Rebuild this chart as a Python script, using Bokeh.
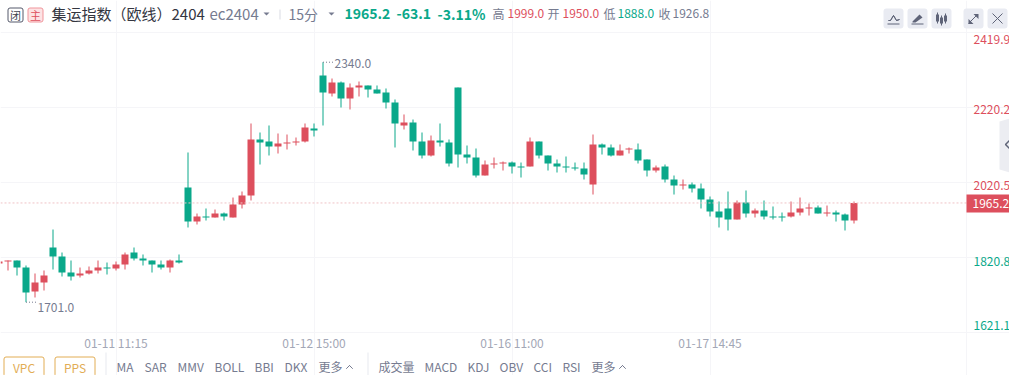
from bokeh.plotting import figure
from bokeh.models import (Label, BoxAnnotation, PolyAnnotation, Span, LinearAxis, Grid,
                          FixedTicker, ColumnDataSource)
from bokeh.embed import file_html
from bokeh.resources import INLINE

W, H = 1009, 375
FONT = "Noto Sans CJK SC"
GREEN, RED, GRAY, LIGHT = "#0aa88a", "#dd4f5d", "#767b90", "#a3a7b6"
GRID = "#f5f5f8"

candle_index = list(range(-1, 95))
opens = [1804.0, 1809.3, 1812.0, 1793.3, 1729.4, 1753.4, 1846.6, 1822.6, 1780.0, 1772.0,
         1777.4, 1785.4, 1793.3, 1790.7, 1801.3, 1833.3, 1817.3, 1812.0, 1801.3, 1793.3,
         1812.0, 2006.4, 1915.8, 1929.2, 1926.5, 1937.1, 1926.5, 1961.1, 1985.1, 2134.2,
         2128.9, 2115.5, 2123.5, 2126.2, 2128.9, 2163.5, 2304.6, 2256.7, 2286.0, 2243.4,
         2272.6, 2278.0, 2267.3, 2259.3, 2232.7, 2171.5, 2179.4, 2128.9, 2091.6, 2131.5,
         2126.2, 2272.6, 2094.2, 2086.2, 2038.3, 2067.6, 2070.3, 2072.9, 2062.3, 2062.3,
         2128.9, 2091.6, 2070.3, 2062.3, 2059.6, 2057.0, 2014.4, 2120.9, 2112.9, 2091.6,
         2107.6, 2107.6, 2080.9, 2051.6, 2062.3, 2027.7, 2011.7, 2014.4, 2003.7, 1974.4,
         1942.5, 1950.5, 1921.2, 1966.4, 1937.1, 1945.1, 1929.2, 1929.2, 1929.2, 1939.8,
         1950.5, 1953.1, 1937.1, 1939.8, 1934.5, 1918.5]
closes = [1809.3, 1812.0, 1793.3, 1726.8, 1753.4, 1772.0, 1822.6, 1780.0, 1769.4, 1777.4,
          1785.4, 1793.3, 1790.7, 1801.3, 1828.0, 1817.3, 1812.0, 1801.3, 1793.3, 1812.0,
          1806.6, 1915.8, 1929.2, 1926.5, 1937.1, 1929.2, 1961.1, 1985.1, 2134.2, 2126.2,
          2115.5, 2123.5, 2126.2, 2128.9, 2166.1, 2158.2, 2259.3, 2286.0, 2243.4, 2272.6,
          2278.0, 2267.3, 2256.7, 2232.7, 2176.8, 2179.4, 2128.9, 2091.6, 2131.5, 2126.2,
          2070.3, 2094.2, 2086.2, 2038.3, 2067.6, 2070.3, 2072.9, 2062.3, 2059.6, 2128.9,
          2091.6, 2070.3, 2062.3, 2059.6, 2057.0, 2041.0, 2120.9, 2112.9, 2091.6, 2104.9,
          2110.2, 2078.3, 2051.6, 2059.6, 2027.7, 2011.7, 2014.4, 2003.7, 1974.4, 1942.5,
          1926.5, 1921.2, 1966.4, 1937.1, 1945.1, 1929.2, 1926.5, 1926.5, 1939.8, 1950.5,
          1953.1, 1937.1, 1939.8, 1934.5, 1918.5, 1965.2]
highs = [1809.3, 1812.0, 1812.0, 1798.7, 1777.4, 1785.4, 1894.5, 1833.3, 1812.0, 1793.3,
         1796.0, 1812.0, 1806.6, 1809.3, 1833.3, 1846.6, 1828.0, 1812.0, 1812.0, 1814.6,
         1828.0, 2099.6, 1937.1, 1950.5, 1947.8, 1939.8, 1979.7, 1995.7, 2176.8, 2152.8,
         2171.5, 2150.2, 2147.5, 2139.5, 2176.8, 2176.8, 2340.0, 2296.6, 2288.6, 2283.3,
         2288.6, 2278.0, 2278.0, 2270.0, 2240.7, 2200.8, 2187.4, 2152.8, 2144.8, 2176.8,
         2134.2, 2272.6, 2118.2, 2110.2, 2078.3, 2086.2, 2075.6, 2075.6, 2072.9, 2139.5,
         2128.9, 2091.6, 2080.9, 2088.9, 2072.9, 2072.9, 2147.5, 2123.5, 2120.9, 2120.9,
         2112.9, 2123.5, 2080.9, 2064.9, 2067.6, 2038.3, 2027.7, 2019.7, 2017.0, 1982.4,
         1969.1, 1995.7, 1971.8, 1998.4, 1950.5, 1971.8, 1955.8, 1939.8, 1969.1, 1979.7,
         1963.8, 1958.4, 1958.4, 1945.1, 1937.1, 1969.1]
lows = [1804.0, 1785.4, 1772.0, 1701.0, 1713.5, 1732.1, 1788.0, 1769.4, 1758.7, 1766.7,
        1774.7, 1777.4, 1774.7, 1785.4, 1788.0, 1812.0, 1798.7, 1780.0, 1788.0, 1780.0,
        1804.0, 1899.9, 1907.9, 1918.5, 1926.5, 1918.5, 1926.5, 1950.5, 1971.8, 2067.6,
        2091.6, 2096.9, 2107.6, 2118.2, 2126.2, 2142.2, 2171.5, 2248.7, 2219.4, 2214.1,
        2248.7, 2246.0, 2256.7, 2216.7, 2112.9, 2160.8, 2104.9, 2083.6, 2088.9, 2115.5,
        2062.3, 2059.6, 2070.3, 2033.0, 2038.3, 2057.0, 2051.6, 2043.6, 2033.0, 2062.3,
        2083.6, 2051.6, 2046.3, 2046.3, 2051.6, 2027.7, 1987.7, 2094.2, 2088.9, 2091.6,
        2096.9, 2070.3, 2035.7, 2046.3, 2019.7, 1987.7, 2001.0, 1993.1, 1950.5, 1929.2,
        1899.9, 1891.9, 1921.2, 1926.5, 1926.5, 1921.2, 1921.2, 1915.8, 1926.5, 1931.8,
        1931.8, 1937.1, 1929.2, 1915.8, 1891.9, 1910.5]
price_ticks = [2419.9, 2220.2, 2020.5, 1820.8, 1621.1]
price_tick_labels = ["2419.9", "2220.2", "2020.5", "1820.8", "1621.1"]
price_tick_colors = [RED, RED, RED, GREEN, GREEN]
price_label_screen_y = [39, 108.5, 184.5, 260.5, 325]
time_ticks = [12, 34, 56, 78]
time_labels = ["01-11 11:15", "01-12 15:00", "01-16 11:00", "01-17 14:45"]
last_price = 1965.2
left_indicators = ["MA", "SAR", "MMV", "BOLL", "BBI", "DKX", "更多"]
left_indicator_x = [116, 144, 177, 214, 254, 284, 318]
right_indicators = ["成交量", "MACD", "KDJ", "OBV", "CCI", "RSI", "更多"]
right_indicator_x = [378, 424, 467, 499, 533, 562, 591]

X_LEFT, X_PLOT_RIGHT, X_RIGHT = -7.5 / 9, (966 - 7.5) / 9, (1009 - 7.5) / 9
Y_FULL_BOTTOM, Y_PLOT_BOTTOM, Y_PLOT_TOP, Y_FULL_TOP = 1505.8, 1617.6, 2421.8, 2504.3

p = figure(width=W, height=H, output_backend="svg", toolbar_location=None,
           x_range=(X_LEFT, X_RIGHT), y_range=(Y_FULL_BOTTOM, Y_FULL_TOP),
           min_border=0, outline_line_color=None,
           x_axis_location=None, y_axis_location=None,
           background_fill_color="white", border_fill_color="white",
           styles={"position": "absolute", "left": "0px", "top": "0px"})
p.center = []

time_axis = LinearAxis(fixed_location=Y_PLOT_BOTTOM, ticker=FixedTicker(ticks=time_ticks),
                       major_label_overrides=dict(zip(time_ticks, time_labels)),
                       axis_line_color=None, major_tick_line_color=None,
                       minor_tick_line_color=None, major_label_text_color=LIGHT,
                       major_label_text_font=FONT, major_label_text_font_size="12px",
                       major_tick_in=0, major_tick_out=0, minor_tick_in=0, minor_tick_out=0,
                       major_label_standoff=0)
p.add_layout(time_axis, "below")

p.add_layout(Grid(dimension=0, ticker=FixedTicker(ticks=time_ticks + [X_PLOT_RIGHT]),
                  grid_line_color=GRID, bounds=(Y_PLOT_BOTTOM, Y_PLOT_TOP)))
p.add_layout(Grid(dimension=1, ticker=FixedTicker(ticks=price_ticks), grid_line_color=GRID,
                  bounds=(X_LEFT, X_PLOT_RIGHT)))

p.add_layout(Span(location=last_price, dimension="width", line_color="#efc3c7",
                  line_width=1, line_dash="2 2"))

colors = [RED if c >= o else GREEN for o, c in zip(opens, closes)]
src = ColumnDataSource(dict(x=candle_index, o=opens, c=closes, h=highs, l=lows, color=colors))
p.segment("x", "h", "x", "l", source=src, line_color="color", line_width=1)
p.vbar("x", 7 / 9, "o", "c", source=src, fill_color="color", line_color=None)

# Extreme-value leaders
imax = highs.index(max(highs))
imin = lows.index(min(lows))
p.segment([candle_index[imax]], [max(highs)], [candle_index[imax] + 1.2], [max(highs)],
          line_color=GRAY, line_dash="1 2", line_width=1)
p.segment([candle_index[imin]], [min(lows)], [candle_index[imin] + 1.2], [min(lows)],
          line_color=GRAY, line_dash="1 2", line_width=1)


def Y(y):
    return H - y


def T(text, x, y, size=12, color=GRAY, bold=False, align="left"):
    p.add_layout(Label(x=x, y=Y(y), x_units="screen", y_units="screen", text=text,
                       text_font=FONT, text_font_size=f"{size}px", text_color=color,
                       text_baseline="middle", text_align=align, level="overlay",
                       text_font_style="bold" if bold else "normal"))


def box(l, r, t, b, fill, line=None, radius=0):
    p.add_layout(BoxAnnotation(left=l, right=r, top=Y(t), bottom=Y(b),
                               left_units="screen", right_units="screen",
                               top_units="screen", bottom_units="screen",
                               fill_color=fill, fill_alpha=1, line_color=line,
                               line_alpha=1 if line else 0, line_width=1,
                               border_radius=radius, level="overlay"))


def poly(pts, fill=None, line=None, width=1):
    p.add_layout(PolyAnnotation(xs=[a for a, _ in pts], ys=[Y(b) for _, b in pts],
                                xs_units="screen", ys_units="screen",
                                fill_color=fill, fill_alpha=1 if fill else 0,
                                line_color=line, line_alpha=1 if line else 0,
                                line_width=width, level="overlay"))


def path(pts, color, width=1):
    poly(pts + pts[-2:0:-1], None, color, width)


# Header
box(7.5, 22.5, 7.5, 21.5, "white", "#55596a", 2)
T("闭", 15, 14.5, 11, "#40434f", align="center")
box(27.5, 42.5, 7.5, 21.5, "#fde3e4", "#f0959b", 2)
T("主", 35, 14.5, 11, RED, align="center")
T("集运指数（欧线）2404", 51, 13, 15, "#33353f")
T("ec2404", 209, 13, 15, GRAY)
poly([(263, 12), (269, 12), (266, 15)], GRAY)
poly([(279, 9), (280, 9), (280, 19), (279, 19)], "#d9dbe3")
T("15分", 288, 13, 14, GRAY)
poly([(328, 12), (334, 12), (331, 15)], GRAY)
T("1965.2", 344, 13, 14, GREEN, True)
T("-63.1", 396, 13, 14, GREEN, True)
T("-3.11%", 437, 13, 14, GREEN, True)
for txt, x, c in [("高", 492, GRAY), ("1999.0", 507, RED), ("开", 547, GRAY), ("1950.0", 562, RED),
                  ("低", 603, GRAY), ("1888.0", 617, GREEN), ("收", 658, GRAY), ("1926.8", 672, GRAY)]:
    T(txt, x, 13, 12, c)

# Header buttons
ICON = "#5f6478"
for l in (883, 907, 931, 963, 987):
    box(l, l + 20, 8, 28, "#e9ebf2", None, 3)
path([(888, 20), (890, 20), (893, 15), (896, 20), (899, 19)], ICON)
poly([(887, 23), (899, 23), (899, 24), (887, 24)], ICON)
poly([(912, 21), (919, 14), (922, 17), (915, 22), (912, 22)], ICON)
poly([(911, 23), (923, 23), (923, 24), (911, 24)], ICON)
for cx, t, b in [(937, 14, 21), (941, 17, 23), (945, 15, 21)]:
    poly([(cx - 1.5, t), (cx + 1.5, t), (cx + 1.5, b), (cx - 1.5, b)], ICON)
    path([(cx, t - 2), (cx, b + 2)], ICON)
path([(968, 23), (977, 14)], ICON)
poly([(973, 13.5), (978, 13.5), (978, 18.5)], ICON)
poly([(968, 18.5), (968, 23.5), (973, 23.5)], ICON)
path([(992, 13), (1002, 23)], ICON)
path([(1002, 13), (992, 23)], ICON)

# Price axis labels
for lab, y, col in zip(price_tick_labels, price_label_screen_y, price_tick_colors):
    T(lab, 973, y, 12, col)
box(966, 1010, 194, 212, RED)
T(f"{last_price:.1f}", 972, 203, 12, "white")

# Right collapse handle
poly([(999, 121), (1009, 118), (1009, 172), (999, 169)], "#ecedf2")
path([(1009, 140), (1005, 144), (1009, 148)], "#5f6478", 1.5)

# Extreme-value texts
T(f"{max(highs):.1f}", 334, 63, 12, GRAY)
T(f"{min(lows):.1f}", 37, 307, 12, GRAY)

# Bottom bar
box(3.5, 43.5, 356.5, 376, "white", "#e2ad55", 2)
T("VPC", 23.5, 367, 12, "#e2ad55", align="center")
box(54.5, 94.5, 356.5, 376, "white", "#e2ad55", 2)
T("PPS", 74.5, 367, 12, "#e2ad55", align="center")
poly([(105, 352), (106, 352), (106, 375), (105, 375)], "#e8e9ef")
poly([(367, 352), (368, 352), (368, 375), (367, 375)], "#e8e9ef")
for txt, x in zip(left_indicators + right_indicators, left_indicator_x + right_indicator_x):
    T(txt, x, 366, 12, GRAY)
path([(346, 368), (349, 365), (352, 368)], GRAY)
path([(619, 368), (622, 365), (625, 368)], GRAY)

open("out.html", "w").write(file_html(p, INLINE))
